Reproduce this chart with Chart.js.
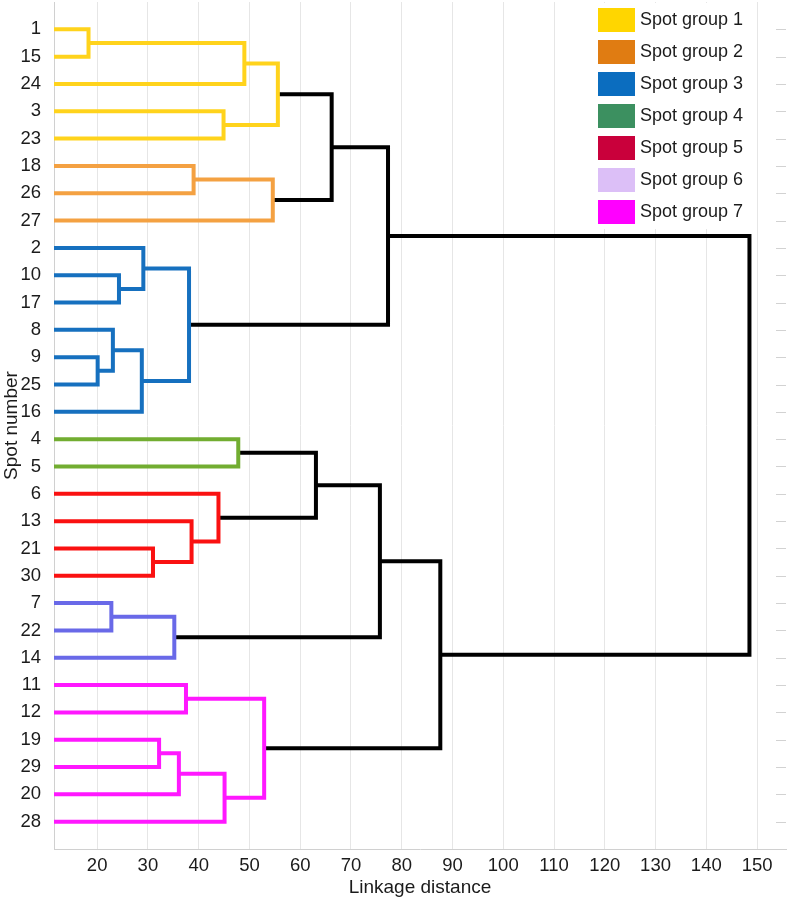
<!DOCTYPE html>
<html>
<head>
<meta charset="utf-8">
<title>Spot dendrogram</title>
<script src="https://cdn.jsdelivr.net/npm/chart.js@4.4.1/dist/chart.umd.min.js"></script>
<style>
  html, body { margin: 0; padding: 0; background: #fff; }
  #wrap { position: relative; width: 787px; height: 899px; }
</style>
</head>
<body>
<div id="wrap"><canvas id="dendro"></canvas></div>
<script>
// leaf order, top to bottom
const spots = ['1', '15', '24', '3', '23', '18', '26', '27', '2', '10', '17', '8', '9', '25', '16',
               '4', '5', '6', '13', '21', '30', '7', '22', '14', '11', '12', '19', '29', '20', '28'];

// merges (children are spot numbers or 'L' + index of an earlier merge)
const mergeLeft  = ['1',  'L0', '3',  'L1', '18', 'L4', 'L3', '10', '2',  '9',  '8',  'L10', 'L8',  'L6',
                    '4',  '21', '13', '6',  'L14', '7', 'L19', 'L18', '11', '19', 'L23', 'L24', 'L22', 'L21', 'L13'];
const mergeRight = ['15', '24', '23', 'L2', '26', '27', 'L5', '17', 'L7', '25', 'L9', '16',  'L11', 'L12',
                    '5',  '30', 'L15', 'L16', 'L17', '22', '14', 'L20', '12', '29', '20', '28', 'L25', 'L26', 'L27'];
const mergeDist  = [18.3, 49.0, 44.9, 55.6, 39.0, 54.6, 66.2, 24.3, 29.1, 20.1, 23.1, 28.8, 38.1, 77.3,
                    47.8, 31.0, 38.6, 43.9, 63.1, 22.8, 35.2, 75.7, 37.5, 32.2, 36.1, 45.1, 52.9, 87.6, 148.5];
// 0 = joined above the cut (black)
const mergeGroup = [1, 1, 1, 1, 2, 2, 0, 3, 3, 3, 3, 3, 3, 0,
                    4, 5, 5, 5, 0, 6, 6, 0, 7, 7, 7, 7, 7, 0, 0];

const groupNames = ['Spot group 1', 'Spot group 2', 'Spot group 3', 'Spot group 4',
                    'Spot group 5', 'Spot group 6', 'Spot group 7'];
const legendColors = ['#ffd600', '#e07c12', '#0b6dbf', '#3c9060', '#c9003b', '#dcbff7', '#ff00ff'];
const lineColors = ['#000000', '#ffd31c', '#f4a142', '#1670bf', '#72ad31', '#fa1111', '#6969e8', '#ff18ff'];

const xTicks = [20, 30, 40, 50, 60, 70, 80, 90, 100, 110, 120, 130, 140, 150];

const FONT = '"Liberation Sans", Arial, sans-serif';
const TEXT = '#1b1b1b';

// leaf / node positions
const nodeX = {}, nodeY = {};
spots.forEach((s, i) => { nodeX[s] = 0; nodeY[s] = i + 1; });
mergeDist.forEach((d, k) => {
    nodeX['L' + k] = d;
    nodeY['L' + k] = (nodeY[mergeLeft[k]] + nodeY[mergeRight[k]]) / 2;
});

const datasets = mergeDist.map((d, k) => {
    const a = mergeLeft[k], b = mergeRight[k];
    return {
        data: [
            {x: nodeX[a], y: nodeY[a]},
            {x: d, y: nodeY[a]},
            {x: d, y: nodeY[b]},
            {x: nodeX[b], y: nodeY[b]}
        ],
        borderColor: lineColors[mergeGroup[k]],
        borderWidth: 4,
        borderJoinStyle: 'miter',
        borderCapStyle: 'butt',
        showLine: true,
        pointRadius: 0,
        tension: 0,
        clip: {left: 0, top: 4, right: 4, bottom: 4}
    };
});

// legend box + short inward ticks on the right edge
const extras = {
    id: 'extras',
    afterDatasetsDraw(chart) {
        const {ctx, chartArea} = chart;
        const yScale = chart.scales.y;
        ctx.save();
        ctx.strokeStyle = '#d2d2d2';
        ctx.lineWidth = 1;
        spots.forEach((s, i) => {
            const y = Math.round(yScale.getPixelForValue(i + 1)) + 0.5;
            ctx.beginPath();
            ctx.moveTo(chartArea.right - 10, y);
            ctx.lineTo(chartArea.right, y);
            ctx.stroke();
        });

        const left = chartArea.right - 194;
        const top = chartArea.top + 1;
        ctx.fillStyle = '#fff';
        ctx.fillRect(left, top, 163, 226);
        ctx.font = '18px ' + FONT;
        ctx.textBaseline = 'middle';
        groupNames.forEach((name, i) => {
            const y = top + 5 + i * 32;
            ctx.fillStyle = legendColors[i];
            ctx.fillRect(left + 6, y, 37, 24);
            ctx.fillStyle = TEXT;
            ctx.fillText(name, left + 48, y + 12.5);
        });
        ctx.restore();
    }
};

new Chart(document.getElementById('dendro').getContext('2d'), {
    type: 'scatter',
    data: { datasets: datasets },
    options: {
        responsive: true,
        maintainAspectRatio: false,
        animation: false,
        layout: { padding: { top: 2, right: 1, left: 0, bottom: 0 } },
        plugins: {
            legend: { display: false },
            tooltip: { enabled: false }
        },
        scales: {
            x: {
                type: 'linear',
                min: 11.5,
                max: 155.7,
                afterBuildTicks: (s) => { s.ticks = xTicks.map(v => ({value: v})); },
                afterFit: (s) => { s.height = 50; s.paddingLeft = 0; s.paddingRight = 0; },
                grid: { color: '#e6e6e6', drawTicks: false },
                border: { color: '#d0d0d0' },
                ticks: { font: { family: FONT, size: 18.5 }, color: TEXT, padding: 6, maxRotation: 0, autoSkip: false },
                title: { display: true, text: 'Linkage distance', font: { family: FONT, size: 19 }, color: TEXT, padding: 0 }
            },
            y: {
                type: 'linear',
                reverse: true,
                min: 0,
                max: 31,
                afterBuildTicks: (s) => { s.ticks = spots.map((_, i) => ({value: i + 1})); },
                afterFit: (s) => { s.width = 54; s.paddingTop = 0; s.paddingBottom = 0; },
                grid: { display: false },
                border: { color: '#d0d0d0' },
                ticks: {
                    callback: (v) => spots[v - 1],
                    font: { family: FONT, size: 18.5 }, color: TEXT, padding: 5, autoSkip: false
                },
                title: { display: true, text: 'Spot number', font: { family: FONT, size: 19 }, color: TEXT, padding: 0 }
            }
        }
    },
    plugins: [extras]
});
</script>
</body>
</html>
